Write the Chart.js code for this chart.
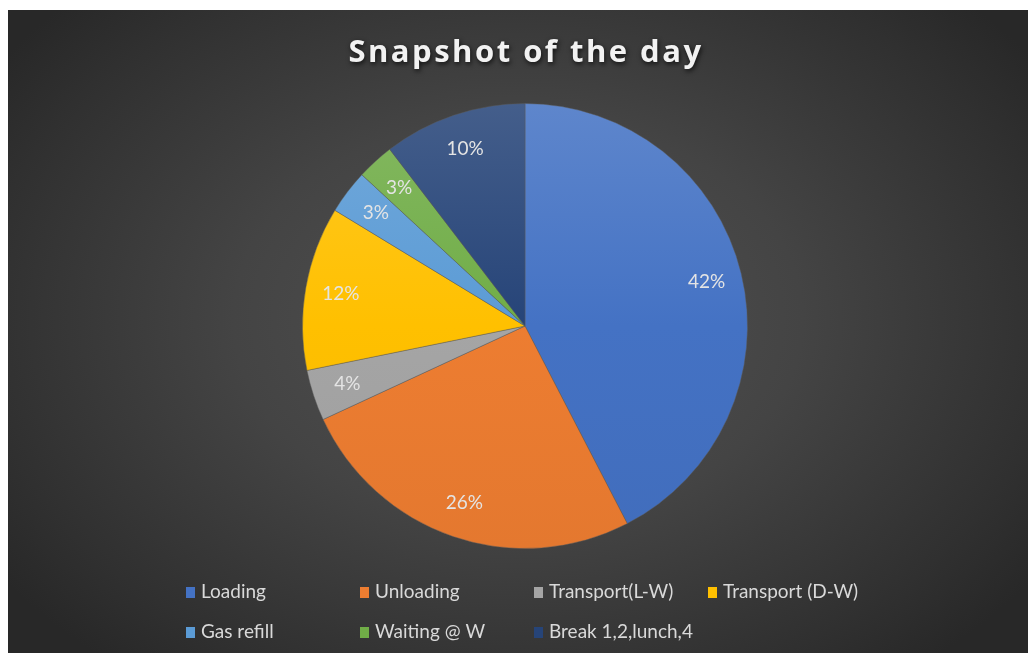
<!DOCTYPE html>
<html>
<head>
<meta charset="utf-8">
<script src="https://cdn.jsdelivr.net/npm/chart.js@4.4.1/dist/chart.umd.min.js"></script>
<style>
  html, body { margin: 0; padding: 0; background: #ffffff; }
  #wrap {
    position: absolute; left: 8px; top: 10px; width: 1020px; height: 643px;
    background: radial-gradient(ellipse 62% 70% at 50% 48%, #525252 0%, #444444 45%, #303030 85%, #282828 100%);
  }
</style>
</head>
<body>
<div id="wrap"><canvas id="chart" width="1020" height="643"></canvas></div>
<script>
const titleText = "Snapshot of the day";
const categories = ["Loading", "Unloading", "Transport(L-W)", "Transport (D-W)", "Gas refill", "Waiting @ W", "Break 1,2,lunch,4"];
const shares = [42.4, 25.7, 3.7, 11.9, 3.2, 2.7, 10.4];
const sliceColors = ["#4472C4", "#ED7D31", "#A5A5A5", "#FFC000", "#5B9BD5", "#70AD47", "#264478"];

function mix(hex, target, amt) {
    const n = parseInt(hex.slice(1), 16);
    const r = (n >> 16) & 255, g = (n >> 8) & 255, b = n & 255;
    const m = c => Math.round(c + (target - c) * amt);
    return `rgb(${m(r)},${m(g)},${m(b)})`;
}

// vertical gradient across the pie, lighter at the top
function sliceFill(ctx) {
    const base = sliceColors[ctx.dataIndex];
    const area = ctx.chart.chartArea;
    if (!area) return base;
    const g = ctx.chart.ctx.createLinearGradient(0, area.top, 0, area.bottom);
    g.addColorStop(0, mix(base, 255, 0.14));
    g.addColorStop(0.5, base);
    g.addColorStop(1, mix(base, 0, 0.04));
    return g;
}

// percentage labels inside slices
const sliceLabels = {
    id: "sliceLabels",
    afterDatasetsDraw(chart) {
        const ctx = chart.ctx;
        const meta = chart.getDatasetMeta(0);
        const total = shares.reduce((a, b) => a + b, 0);
        ctx.save();
        ctx.font = "19px Lato";
        ctx.fillStyle = "#e4e4e4";
        ctx.textAlign = "center";
        ctx.textBaseline = "middle";
        meta.data.forEach((arc, i) => {
            const p = arc.getProps(["x", "y", "startAngle", "endAngle", "outerRadius"], true);
            const mid = (p.startAngle + p.endAngle) / 2;
            const r = p.outerRadius * 0.84;
            const pct = Math.round(shares[i] / total * 100) + "%";
            ctx.fillText(pct, p.x + Math.cos(mid) * r, p.y + Math.sin(mid) * r);
        });
        ctx.restore();
    }
};

// title with spacing and soft shadow
const spacedTitle = {
    id: "spacedTitle",
    afterDraw(chart) {
        const ctx = chart.ctx;
        ctx.save();
        ctx.font = "bold 31px 'Open Sans'";
        ctx.letterSpacing = "2.5px";
        ctx.fillStyle = "#f2f2f2";
        ctx.textAlign = "center";
        ctx.textBaseline = "middle";
        ctx.shadowColor = "rgba(0,0,0,0.75)";
        ctx.shadowBlur = 5;
        ctx.shadowOffsetX = 1;
        ctx.shadowOffsetY = 2;
        ctx.fillText(titleText, 518, 43);
        ctx.restore();
    }
};

// legend in fixed columns, two rows
const gridLegend = {
    id: "gridLegend",
    afterDraw(chart) {
        const ctx = chart.ctx;
        const perRow = 4, colW = 174, x0 = 178, y0 = 582, rowH = 40;
        ctx.save();
        ctx.font = "19px Lato";
        ctx.textBaseline = "middle";
        categories.forEach((name, i) => {
            const x = x0 + (i % perRow) * colW;
            const y = y0 + Math.floor(i / perRow) * rowH;
            ctx.fillStyle = sliceColors[i];
            ctx.fillRect(x, y - 5, 9, 11);
            ctx.fillStyle = "#d9d9d9";
            ctx.fillText(name, x + 15, y);
        });
        ctx.restore();
    }
};

new Chart(document.getElementById("chart"), {
    type: "pie",
    data: {
        labels: categories,
        datasets: [{
            data: shares,
            backgroundColor: sliceFill,
            borderColor: "rgba(90,90,90,0.45)",
            borderWidth: 1
        }]
    },
    options: {
        responsive: false,
        animation: false,
        layout: { padding: { top: 93, bottom: 104, left: 200, right: 186 } },
        plugins: {
            legend: { display: false },
            tooltip: { enabled: false },
            title: { display: false }
        }
    },
    plugins: [sliceLabels, spacedTitle, gridLegend]
});
</script>
</body>
</html>
